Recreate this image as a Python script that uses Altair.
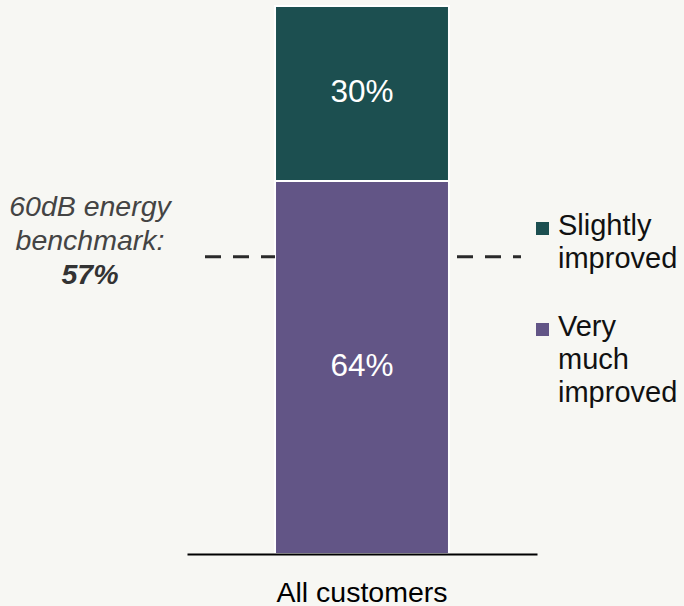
import altair as alt
import pandas as pd

# ---- data ----
categories = ["All customers", "All customers"]
segments = ["Very much improved", "Slightly improved"]
values = [64, 30]
labels = ["64%", "30%"]
colors = ["#625586", "#1c4f50"]
legend_lines = ["Very\nmuch\nimproved", "Slightly\nimproved"]

bench_text = "60dB energy\nbenchmark:"
bench_value_text = "57%"
bench_position = [51]  # where the dashed line sits on the bar's scale in the picture

FONT = "Liberation Sans"
BG = "#f7f7f3"

df = pd.DataFrame({
    "category": categories,
    "segment": segments,
    "value": values,
    "label": labels,
})
df["y1"] = df["value"].cumsum()
df["y0"] = df["y1"] - df["value"]
df["mid"] = (df["y0"] + df["y1"]) / 2

bench_df = pd.DataFrame({"pos": bench_position, "t1": [bench_text], "t2": [bench_value_text]})

W, H = 350, 548
yscale = alt.Scale(domain=[0, 94], nice=False, zero=True)
xscale = alt.Scale(paddingInner=0, paddingOuter=0.506)
color_scale = alt.Scale(domain=segments, range=colors)

bars = alt.Chart(df).mark_bar(stroke="white", strokeWidth=2).encode(
    x=alt.X(
        "category:N",
        scale=xscale,
        title=None,
        axis=alt.Axis(
            domainColor="#000000",
            domainWidth=2,
            ticks=False,
            labelAngle=0,
            labelFont=FONT,
            labelFontSize=28.5,
            labelColor="#000000",
            labelPadding=24,
            grid=False,
            zindex=1,
        ),
    ),
    y=alt.Y("y0:Q", scale=yscale, axis=None),
    y2="y1:Q",
    color=alt.Color("segment:N", scale=color_scale, legend=None),
)

bar_text = alt.Chart(df).mark_text(
    font=FONT, fontSize=31.5, color="white", baseline="middle"
).encode(
    x=alt.X("category:N", scale=xscale),
    y=alt.Y("mid:Q", scale=yscale),
    text="label:N",
)

# dashed benchmark line, visible on both sides of the bar
rule_left = alt.Chart(bench_df).mark_rule(
    color="#2a2a2a", strokeWidth=3, strokeDash=[16, 12]
).encode(
    y=alt.Y("pos:Q", scale=yscale),
    x=alt.value(18),
    x2=alt.value(88),
)
rule_right = alt.Chart(bench_df).mark_rule(
    color="#2a2a2a", strokeWidth=3, strokeDash=[16, 12], strokeDashOffset=20
).encode(
    y=alt.Y("pos:Q", scale=yscale),
    x=alt.value(262),
    x2=alt.value(334),
)

ann1 = alt.Chart(bench_df).mark_text(
    font=FONT, fontSize=28.5, fontStyle="italic", color="#444444",
    align="center", baseline="alphabetic", lineBreak="\n", lineHeight=34, dy=-41,
).encode(
    y=alt.Y("pos:Q", scale=yscale),
    x=alt.value(-97),
    text="t1:N",
)
ann2 = alt.Chart(bench_df).mark_text(
    font=FONT, fontSize=28.5, fontStyle="italic", fontWeight="bold", color="#333333",
    align="center", baseline="alphabetic", dy=27,
).encode(
    y=alt.Y("pos:Q", scale=yscale),
    x=alt.value(-97),
    text="t2:N",
)

# manual legend
legend_layers = []
legend_tops = [330, 229]  # baseline of first line for each entry, relative to plot top
for seg, col, txt, base in zip(segments, colors, legend_lines, legend_tops):
    ldf = pd.DataFrame({"t": [txt]})
    sq = alt.Chart(ldf).mark_square(size=169, color=col, opacity=1).encode(
        x=alt.value(355.5), y=alt.value(base - 6.5)
    )
    tx = alt.Chart(ldf).mark_text(
        font=FONT, fontSize=29, color="#111111", align="left",
        baseline="alphabetic", lineBreak="\n", lineHeight=33,
    ).encode(x=alt.value(371), y=alt.value(base), text="t:N")
    legend_layers += [sq, tx]

chart = alt.layer(bars, rule_left, rule_right, bar_text, ann1, ann2, *legend_layers).properties(
    width=W,
    height=H,
    autosize=alt.AutoSizeParams(type="none"),
    padding={"left": 187, "top": 6, "right": 147, "bottom": 52},
    background=BG,
).configure_view(stroke=None)

chart.save("out.html", embed_options={"renderer": "svg", "actions": False})
